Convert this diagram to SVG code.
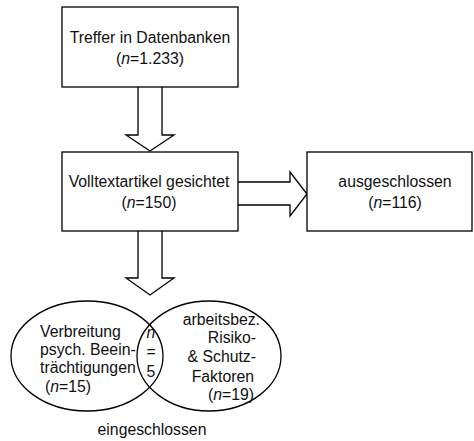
<svg xmlns="http://www.w3.org/2000/svg" width="474" height="441" viewBox="0 0 474 441">
<style>
.box{fill:#fff;stroke:#000;stroke-width:1.3}
.arr{fill:#fff;stroke:#000;stroke-width:1.3;stroke-linejoin:miter}
.ell{fill:none;stroke:#000;stroke-width:1.3}
text{font-family:"Liberation Sans",Arial,sans-serif;font-size:15.8px;fill:#111}
.c{text-anchor:middle}
.r{text-anchor:end}
</style>
<rect width="474" height="441" fill="#fff"/>
<g id="connectors">
<path class="arr" d="M138,87 V135 H126 L150,151 L174,135 H162 V87"/>
<path class="arr" d="M238,182 H290 V172 L307,194 L290,216 V205 H238"/>
<path class="arr" d="M138,231 V278 H126 L150,295 L174,278 H162 V231"/>
</g>
<g id="treffer">
<rect class="box" x="62" y="7" width="176" height="80"/>
<text class="c" x="150" y="43">Treffer in Datenbanken</text>
<text class="c" x="150" y="64">(<tspan font-style="italic">n</tspan>=1.233)</text>
</g>
<g id="volltext">
<rect class="box" x="62" y="152" width="176" height="79"/>
<text class="c" x="149" y="187">Volltextartikel gesichtet</text>
<text class="c" x="149" y="208">(<tspan font-style="italic">n</tspan>=150)</text>
</g>
<g id="ausgeschlossen">
<rect class="box" x="307" y="152" width="165" height="79"/>
<text class="c" x="395" y="187">ausgeschlossen</text>
<text class="c" x="395" y="208">(<tspan font-style="italic">n</tspan>=116)</text>
</g>
<g id="eingeschlossen">
<ellipse class="ell" cx="87" cy="356" rx="76" ry="55"/>
<ellipse class="ell" cx="209" cy="356" rx="72" ry="55"/>
<text x="40" y="337">Verbreitung</text>
<text x="40" y="355">psych. Beein-</text>
<text x="40" y="373">trächtigungen</text>
<text x="45" y="392">(<tspan font-style="italic">n</tspan>=15)</text>
<text class="c" x="151" y="338" font-style="italic">n</text>
<text class="c" x="151" y="357">=</text>
<text class="c" x="151" y="377">5</text>
<text class="r" x="260" y="325">arbeitsbez.</text>
<text class="r" x="256" y="343">Risiko-</text>
<text class="r" x="256" y="362">&amp; Schutz-</text>
<text class="r" x="254" y="382">Faktoren</text>
<text class="r" x="254" y="400">(<tspan font-style="italic">n</tspan>=19)</text>
<text class="c" x="152" y="435">eingeschlossen</text>
</g>
</svg>
